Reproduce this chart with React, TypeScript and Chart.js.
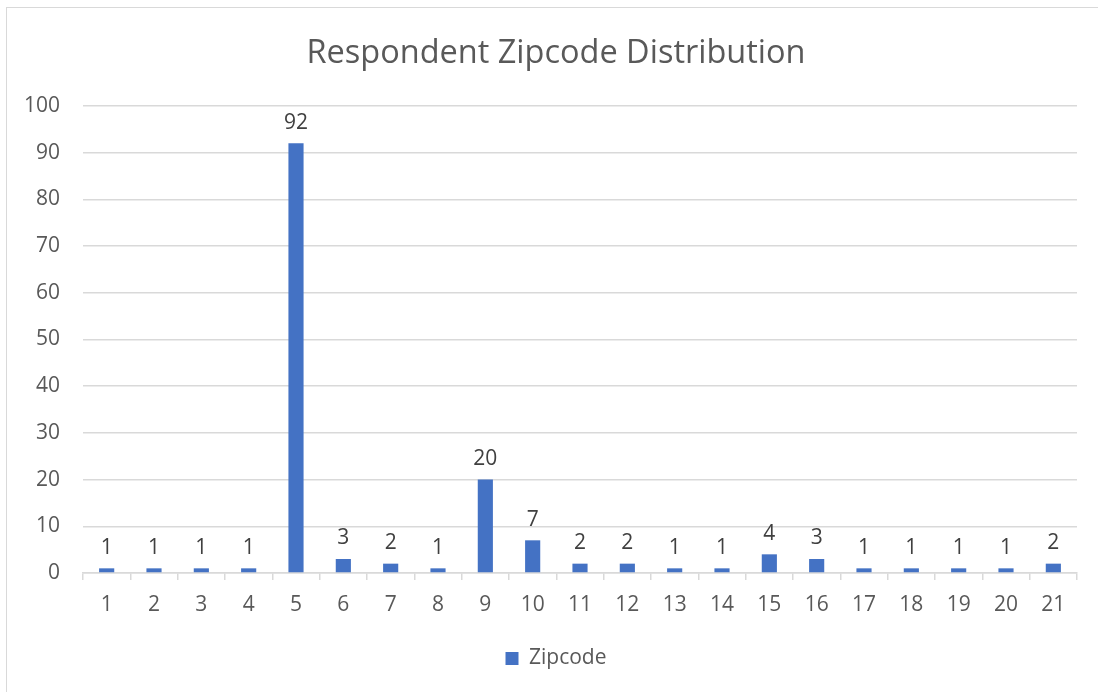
import React, { useEffect, useRef } from "react";
import { Chart, registerables } from "chart.js";

Chart.register(...registerables);

const categories = ["1","2","3","4","5","6","7","8","9","10","11","12","13","14","15","16","17","18","19","20","21"];
const zipcodeCounts = [1,1,1,1,92,3,2,1,20,7,2,2,1,1,4,3,1,1,1,1,2];
const seriesName = "Zipcode";
const chartTitle = "Respondent Zipcode Distribution";

const FONT = "'Open Sans', 'Liberation Sans', sans-serif";
const TEXT = "#595959";
const GRID = "#d9d9d9";
const BAR = "#4472c4";
const FS = 21;

const valueLabels = {
  id: "valueLabels",
  afterDatasetsDraw(chart: any) {
    const ctx = chart.ctx;
    ctx.save();
    ctx.font = `${FS}px ${FONT}`;
    ctx.fillStyle = "#404040";
    ctx.textAlign = "center";
    ctx.textBaseline = "bottom";
    chart.data.datasets.forEach((ds: any, i: number) => {
      const meta = chart.getDatasetMeta(i);
      meta.data.forEach((bar: any, j: number) => {
        ctx.fillText(String(ds.data[j]), bar.x, bar.y - 10);
      });
    });
    ctx.restore();
  },
};

export default function App() {
  const ref = useRef<HTMLCanvasElement>(null);
  useEffect(() => {
    document.body.style.margin = "0";
    document.body.style.overflow = "hidden";
    const chart = new Chart(ref.current!, {
      type: "bar",
      data: {
        labels: categories,
        datasets: [
          {
            label: seriesName,
            data: zipcodeCounts,
            backgroundColor: BAR,
            borderWidth: 0,
            categoryPercentage: 1,
            barPercentage: 0.32,
          },
        ],
      },
      options: {
        animation: false,
        responsive: false,
        maintainAspectRatio: false,
        layout: { padding: { left: 0, right: 0, top: 0, bottom: 14 } },
        plugins: {
          title: {
            display: true,
            text: chartTitle,
            color: TEXT,
            font: { family: FONT, size: 32.5, weight: "normal" },
            padding: { top: 26, bottom: 33 },
          },
          legend: {
            display: true,
            position: "bottom",
            labels: {
              color: TEXT,
              font: { family: FONT, size: FS },
              boxWidth: 13,
              boxHeight: 13,
              padding: 10,
            },
          },
          tooltip: { enabled: false },
        },
        scales: {
          x: {
            afterFit(scale: any) {
              scale.height = 65;
            },
            grid: {
              display: true,
              drawOnChartArea: false,
              drawTicks: true,
              tickLength: 7,
              color: GRID,
              lineWidth: 1.5,
            },
            border: { display: true, color: GRID, width: 1.5 },
            ticks: {
              color: TEXT,
              font: { family: FONT, size: FS },
              padding: 12,
              maxRotation: 0,
              autoSkip: false,
            },
          },
          y: {
            min: 0,
            max: 100,
            afterFit(scale: any) {
              scale.width = 76;
            },
            grid: { color: GRID, lineWidth: 1.5, drawTicks: false },
            border: { display: false },
            ticks: {
              stepSize: 10,
              color: TEXT,
              font: { family: FONT, size: FS },
              padding: 23,
            },
          },
          spacer: {
            type: "linear",
            position: "right",
            afterFit(scale: any) {
              scale.width = 28;
            },
            grid: { display: false },
            border: { display: false },
            ticks: { display: false },
          },
        },
      },
      plugins: [valueLabels],
    });
    return () => chart.destroy();
  }, []);
  return (
    <div
      style={{
        position: "absolute",
        left: 6,
        top: 7,
        width: 1098,
        height: 700,
        border: `1.5px solid ${GRID}`,
        background: "#fff",
        overflow: "hidden",
      }}
    >
      <canvas ref={ref} width={1098} height={685} style={{ display: "block" }} />
    </div>
  );
}
